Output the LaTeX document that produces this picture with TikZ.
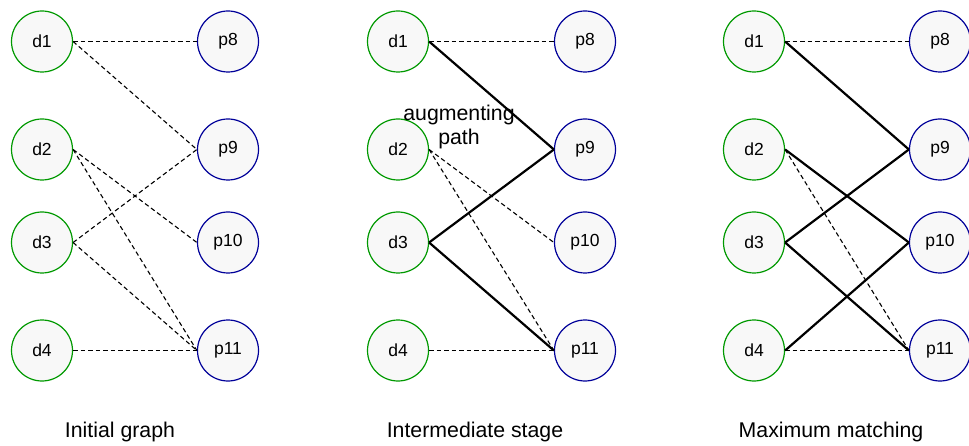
\documentclass[tikz,border=0pt]{standalone}
\usepackage{fontspec}
\setmainfont{Liberation Sans}
\definecolor{dgreen}{HTML}{009900}
\definecolor{pblue}{HTML}{000099}
\definecolor{nodefill}{HTML}{F8F8F8}
\tikzset{
  dnode/.style={circle, draw=dgreen, fill=nodefill, line width=1.2pt, minimum size=61pt, inner sep=0pt, font=\fontsize{17.5}{19}\selectfont},
  pnode/.style={circle, draw=pblue, fill=nodefill, line width=1.2pt, minimum size=61pt, inner sep=0pt, font=\fontsize{17.5}{19}\selectfont},
  candidate/.style={line width=1.1pt, dash pattern=on 4.5pt off 3pt},
  matched/.style={line width=2.2pt},
  caption/.style={anchor=base, font=\fontsize{21.3}{23}\selectfont},
}
\begin{document}
\begin{tikzpicture}[x=1pt, y=-1pt]
\useasboundingbox (0,0) rectangle (969,446);
% Panel A
\node[dnode] (A-d1) at (42,41.5) {d1};
\node[dnode] (A-d2) at (42,149.5) {d2};
\node[dnode] (A-d3) at (42,242.5) {d3};
\node[dnode] (A-d4) at (42,350.5) {d4};
\node[pnode] (A-p8) at (228,41.5) {p8};
\node[pnode] (A-p9) at (228,149.5) {p9};
\node[pnode] (A-p10) at (228,242.5) {p10};
\node[pnode] (A-p11) at (228,350.5) {p11};
\draw[candidate] (A-d1.east) -- (A-p8.west);
\draw[candidate] (A-d1.east) -- (A-p9.west);
\draw[candidate] (A-d2.east) -- (A-p10.west);
\draw[candidate] (A-d2.east) -- (A-p11.west);
\draw[candidate] (A-d3.east) -- (A-p9.west);
\draw[candidate] (A-d3.east) -- (A-p11.west);
\draw[candidate] (A-d4.east) -- (A-p11.west);
\node[caption] (A-cap) at (120,437) {Initial graph};
% Panel B
\node[dnode] (B-d1) at (398,41.5) {d1};
\node[dnode] (B-d2) at (398,149.5) {d2};
\node[dnode] (B-d3) at (398,242.5) {d3};
\node[dnode] (B-d4) at (398,350.5) {d4};
\node[pnode] (B-p8) at (585,41.5) {p8};
\node[pnode] (B-p9) at (585,149.5) {p9};
\node[pnode] (B-p10) at (585,242.5) {p10};
\node[pnode] (B-p11) at (585,350.5) {p11};
\draw[candidate] (B-d1.east) -- (B-p8.west);
\draw[matched] (B-d1.east) -- (B-p9.west);
\draw[candidate] (B-d2.east) -- (B-p10.west);
\draw[candidate] (B-d2.east) -- (B-p11.west);
\draw[matched] (B-d3.east) -- (B-p9.west);
\draw[matched] (B-d3.east) -- (B-p11.west);
\draw[candidate] (B-d4.east) -- (B-p11.west);
\node[align=center, font=\fontsize{21.3}{24.5}\selectfont, inner sep=0pt] (B-aug) at (459,127) {augmenting\\path};
\node[caption] (B-cap) at (475,437) {Intermediate stage};
% Panel C
\node[dnode] (C-d1) at (754,41.5) {d1};
\node[dnode] (C-d2) at (754,149.5) {d2};
\node[dnode] (C-d3) at (754,242.5) {d3};
\node[dnode] (C-d4) at (754,350.5) {d4};
\node[pnode] (C-p8) at (940,41.5) {p8};
\node[pnode] (C-p9) at (940,149.5) {p9};
\node[pnode] (C-p10) at (940,242.5) {p10};
\node[pnode] (C-p11) at (940,350.5) {p11};
\draw[candidate] (C-d1.east) -- (C-p8.west);
\draw[matched] (C-d1.east) -- (C-p9.west);
\draw[matched] (C-d2.east) -- (C-p10.west);
\draw[candidate] (C-d2.east) -- (C-p11.west);
\draw[matched] (C-d3.east) -- (C-p9.west);
\draw[matched] (C-d3.east) -- (C-p11.west);
\draw[matched] (C-d4.east) -- (C-p10.west);
\draw[candidate] (C-d4.east) -- (C-p11.west);
\node[caption] (C-cap) at (831,437) {Maximum matching};
\end{tikzpicture}
\end{document}
